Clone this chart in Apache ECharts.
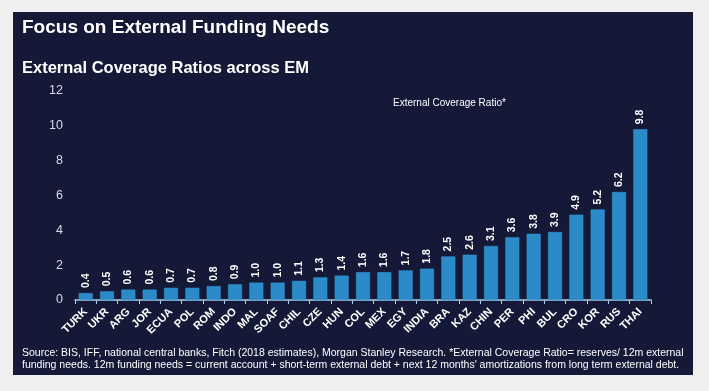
<!DOCTYPE html>
<html><head><meta charset="utf-8">
<script src="https://cdn.jsdelivr.net/npm/echarts@6/dist/echarts.min.js"></script>
<style>html,body{margin:0;padding:0;background:#efefef;}#c{width:709px;height:391px;}</style>
</head><body><div id="c"></div>
<script>
const categories = ['TURK','UKR','ARG','JOR','ECUA','POL','ROM','INDO','MAL','SOAF','CHIL','CZE','HUN','COL','MEX','EGY','INDIA','BRA','KAZ','CHIN','PER','PHI','BUL','CRO','KOR','RUS','THAI'];
const coverage = [0.4,0.5,0.6,0.6,0.7,0.7,0.8,0.9,1.0,1.0,1.1,1.3,1.4,1.6,1.6,1.7,1.8,2.5,2.6,3.1,3.6,3.8,3.9,4.9,5.2,6.2,9.8];
const yTicks = [0,2,4,6,8,10,12];
const seriesName = 'External Coverage Ratio*';

const chart = echarts.init(document.getElementById('c'));
const font = 'Liberation Sans, Arial, sans-serif';
chart.setOption({
  backgroundColor: '#efefef',
  animation: false,
  graphic: [{
    type: 'rect', left: 13, top: 12, z: -10,
    shape: {width: 680, height: 363},
    style: {fill: '#141938'}
  }],
  title: [
    {text: 'Focus on External Funding Needs', left: 22, top: 18, padding: 0,
     textStyle: {color: '#ffffff', fontSize: 19, fontWeight: 'bold', fontFamily: font}},
    {text: 'External Coverage Ratios across EM', left: 22, top: 60, padding: 0,
     textStyle: {color: '#ffffff', fontSize: 16.5, fontWeight: 'bold', fontFamily: font}},
    {text: 'Source: BIS, IFF, national central banks, Fitch (2018 estimates), Morgan Stanley Research. *External Coverage Ratio= reserves/ 12m external\nfunding needs. 12m funding needs = current account + short-term external debt + next 12 months\' amortizations from long term external debt.',
     left: 22, top: 347, padding: 0,
     textStyle: {color: '#ffffff', fontSize: 10.5, fontWeight: 'normal', lineHeight: 12, fontFamily: font}}
  ],
  legend: {
    data: [seriesName], left: 383, top: 93, itemWidth: 0, itemHeight: 0,
    icon: 'none',
    textStyle: {color: '#ffffff', fontSize: 10, fontFamily: font}
  },
  grid: {left: 75, right: 58, top: 91, bottom: 91},
  xAxis: {
    type: 'category', data: categories,
    axisLine: {lineStyle: {color: '#a9cdee', width: 1.5}},
    axisTick: {show: true, lineStyle: {color: '#a9cdee'}, length: 4},
    axisLabel: {rotate: 45, color: '#ffffff', fontSize: 11, fontWeight: 'bold', interval: 0, fontFamily: font, margin: 10}
  },
  yAxis: {
    type: 'value', min: yTicks[0], max: yTicks[yTicks.length-1], interval: 2,
    splitLine: {show: false},
    axisLine: {show: false}, axisTick: {show: false},
    axisLabel: {color: '#d8dbe6', fontSize: 12.5, fontFamily: font, margin: 12}
  },
  series: [{
    name: seriesName, type: 'bar', data: coverage, barWidth: 14,
    itemStyle: {color: '#2b8bc9', borderColor: '#3a96d2', borderWidth: 0.5},
    label: {show: true, position: 'top', rotate: 90, align: 'left', verticalAlign: 'middle',
      distance: 5, color: '#ffffff', fontSize: 10.5, fontWeight: 'bold', fontFamily: font,
      formatter: p => p.value.toFixed(1)}
  }]
});
</script></body></html>
